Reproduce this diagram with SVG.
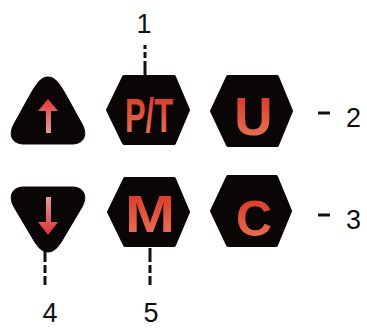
<svg xmlns="http://www.w3.org/2000/svg" width="367" height="329" viewBox="0 0 367 329">
<style>
.key{fill:#0a0606;stroke:#0a0606;stroke-linejoin:round}
.hex{stroke-width:4}
.lbl{font-family:"Liberation Sans",Arial,sans-serif;font-weight:bold;fill:url(#glow);text-anchor:middle}
.num{font-family:"Liberation Sans",Arial,sans-serif;font-size:27px;fill:#111}
.lead{stroke:#111;stroke-width:3;fill:none}
</style>
<defs>
<linearGradient id="glow" x1="0" y1="0" x2="0" y2="1">
<stop offset="0" stop-color="#d8301e"/>
<stop offset="1" stop-color="#ea7a5c"/>
</linearGradient>
<linearGradient id="upg" x1="0" y1="0" x2="0" y2="1">
<stop offset="0" stop-color="#e83434"/>
<stop offset="1" stop-color="#d8a0a0"/>
</linearGradient>
<linearGradient id="dng" x1="0" y1="0" x2="0" y2="1">
<stop offset="0" stop-color="#d8a0a0"/>
<stop offset="1" stop-color="#e03030"/>
</linearGradient>
</defs>
<g id="connectors">
<path class="lead" d="M145,45 V49 M145,52 V58 M145,61 V76"/>
<path class="lead" d="M318,113 H330"/>
<path class="lead" d="M318,215 H330"/>
<path class="lead" d="M45,250 V262 M45,265 V273 M45,276 V285"/>
<path class="lead" d="M150,248 V262 M150,265 V273 M150,276 V285"/>
</g>
<g id="key-up">
<path class="key" d="M48,77 C56,77 60,85 66,95 L82,124 C88,135 84,144 72,144 L24,144 C12,144 8,135 14,124 L30,95 C36,85 40,77 48,77 Z"/>
<path fill="url(#upg)" d="M48,99 L58,111 L51,111 L51,133 L46,133 L46,111 L38,111 Z"/>
</g>
<g id="key-pt">
<polygon class="key hex" points="108,110 124,77 174,77 188,110 174,143 124,143"/>
<text class="lbl" x="149" y="132" font-size="49" textLength="48" lengthAdjust="spacingAndGlyphs">P/T</text>
</g>
<g id="key-u">
<polygon class="key hex" points="212,111 228,77 277,77 291,111 277,145 228,145"/>
<text class="lbl" x="253.5" y="135" font-size="53">U</text>
</g>
<g id="key-down">
<path class="key" d="M48,252 C56,252 60,244 66,234 L82,207 C88,196 84,187 72,187 L24,187 C12,187 8,196 14,207 L30,234 C36,244 40,252 48,252 Z"/>
<path fill="url(#dng)" d="M46,197 L51,197 L51,222 L58,222 L48,235 L38,222 L46,222 Z"/>
</g>
<g id="key-m">
<polygon class="key hex" points="109,212 125,179 174,179 188,212 174,245 125,245"/>
<text class="lbl" x="150" y="232" font-size="52" textLength="50" lengthAdjust="spacingAndGlyphs">M</text>
</g>
<g id="key-c">
<polygon class="key hex" points="212,211 228,177 276,177 290,211 276,245 228,245"/>
<text class="lbl" x="254" y="236" font-size="50">C</text>
</g>
<g id="labels">
<text class="num" x="144" y="33" text-anchor="middle">1</text>
<text class="num" x="346" y="127">2</text>
<text class="num" x="346" y="229">3</text>
<text class="num" x="50" y="322" text-anchor="middle">4</text>
<text class="num" x="151" y="322" text-anchor="middle">5</text>
</g>
</svg>
